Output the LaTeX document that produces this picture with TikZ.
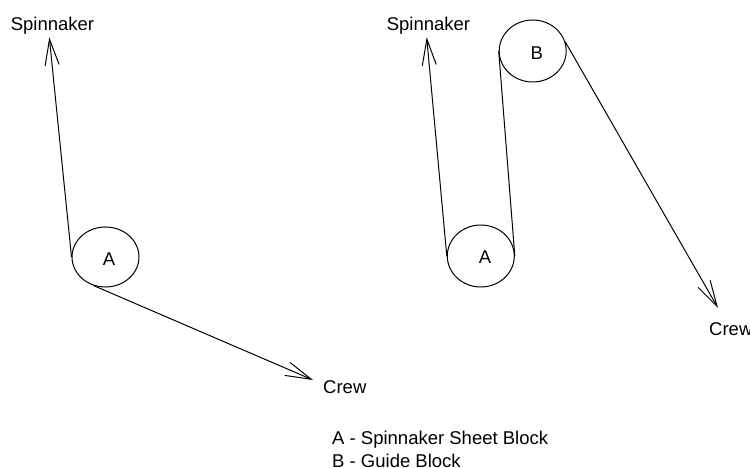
\documentclass[tikz,border=0pt]{standalone}
\usepackage{fontspec}
\setmainfont{Liberation Sans}
\usetikzlibrary{arrows.meta,shapes.geometric}
\begin{document}
\begin{tikzpicture}[x=1pt,y=-1pt,
  block/.style={draw,ellipse,line width=1pt,minimum width=67pt,minimum height=61pt,inner sep=0pt},
  rope/.style={line width=1pt},
  ropearrow/.style={rope,-{Straight Barb[length=26pt,width=14pt]}},
  lbl/.style={inner sep=0pt,font=\fontsize{18.5}{22}\selectfont}]
\useasboundingbox (0,0) rectangle (750,468);
% left drawing
\node[block,minimum height=60pt] (A1) at (105.5,257) {};
\node[lbl] (A1t) at (109,259) {A};
\coordinate (S1) at (49.3,37.3);
\coordinate (C1) at (313,380);
\node[lbl,anchor=base] (S1t) at (52.5,30.5) {Spinnaker};
\node[lbl,anchor=base west] (C1t) at (323,393) {Crew};
\draw[ropearrow] (A1.west) -- (S1);
\draw[ropearrow] (A1.247) -- (C1);
% right drawing
\node[block,minimum height=62pt] (A2) at (480.8,256) {};
\node[lbl] (A2t) at (485,257) {A};
\node[block,minimum height=62pt] (B) at (532.7,51) {};
\node[lbl] (Bt) at (536.7,52.7) {B};
\coordinate (S2) at (426.7,37.3);
\coordinate (C2) at (718,308);
\node[lbl,anchor=base] (S2t) at (428.5,30.5) {Spinnaker};
\node[lbl,anchor=base west] (C2t) at (709,335) {Crew};
\draw[ropearrow] (A2.west) -- (S2);
\draw[rope] (A2.east) -- (B.west);
\draw[ropearrow] (B.16) -- (C2);
% legend
\node[lbl,anchor=base west] (L1) at (332,444) {A - Spinnaker Sheet Block};
\node[lbl,anchor=base west] (L2) at (332,467) {B - Guide Block};
\end{tikzpicture}
\end{document}
